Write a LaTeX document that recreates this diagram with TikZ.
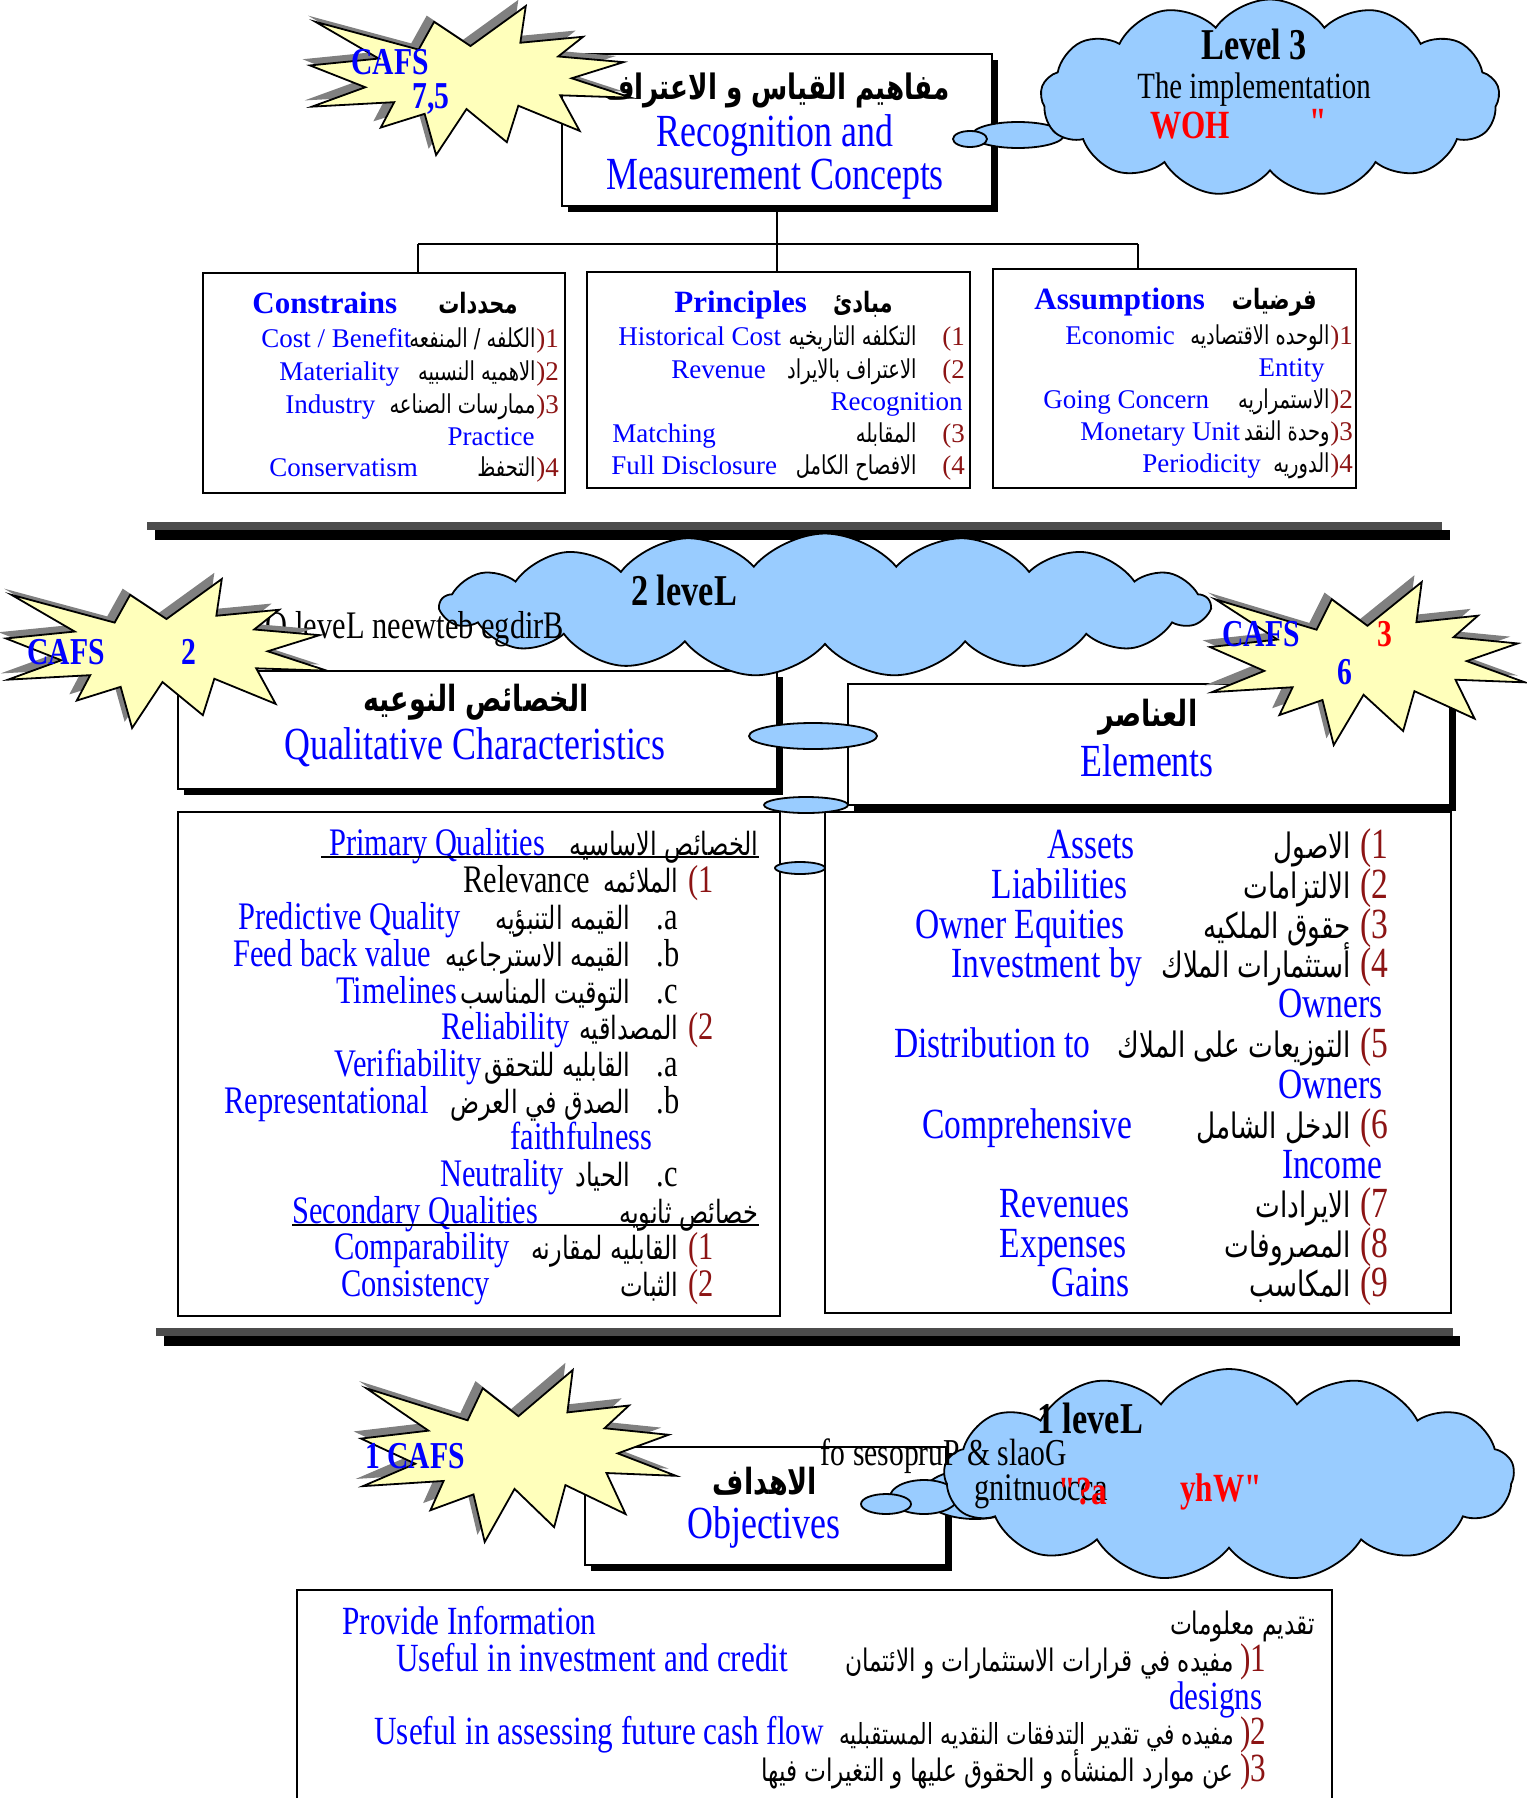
\documentclass[tikz,border=0pt]{standalone}
\usepackage{fontspec}
\setmainfont{Liberation Serif}
\newfontfamily\condfont[FakeStretch=0.78]{Liberation Serif}
\newfontfamily\rawcond[FakeStretch=0.78,Ligatures=TeXOff]{Liberation Serif}
\newfontfamily\arcond[Script=Arabic,FakeStretch=0.75]{DejaVu Sans}
\TeXXeTstate=1
\usetikzlibrary{shapes.symbols,shadows}
\definecolor{cloudblue}{RGB}{153,204,255}
\definecolor{boomyellow}{RGB}{255,255,187}
\definecolor{numred}{RGB}{140,20,20}
\newcommand\arctxt[1]{{\arcond\beginR #1\endR}}
\newcommand\fsz[1]{\fontsize{#1}{#1}\selectfont}
% explosion outline, 216 x 216 units
\def\boompath{(108,58) -- (145.22,0) -- (141.55,53.25) -- (183.8,44.57) -- (167.02,73.15)
  -- (210.97,81.37) -- (176.07,104.75) -- (216,132.9) -- (168.37,129.42) -- (181.45,180.95)
  -- (140.2,144.57) -- (132.47,197.37) -- (105.32,149.35) -- (84.85,216) -- (77.15,156.27)
  -- (47.62,176.17) -- (56.67,139.37) -- (1.35,145.87) -- (37.22,117.75) -- (0,86.15)
  -- (46.27,76.17) -- (3.7,22.95) -- (73.12,63.2) -- (83.52,22.95) -- cycle}
\tikzset{
  box/.style={draw, line width=1pt, fill=white, inner sep=0pt, outer sep=0pt},
  shbox/.style={box, drop shadow={fill=black, opacity=1, shadow xshift=3pt, shadow yshift=-3pt}},
  puff/.style={cloud, cloud puffs=13, cloud puff arc=110, cloud ignores aspect, draw,
    line width=0.9pt, fill=cloudblue, inner sep=0pt},
  tail/.style={draw, line width=0.9pt, fill=cloudblue},
  bar/.style={fill=black},
  greybar/.style={fill=black!70},
  tx/.style={inner sep=0pt},
  en/.style={tx, text=blue},
  cafs/.style={en, font=\condfont\bfseries\fsz{19}},
  topen/.style={en, yshift=-2.5pt, font=\fsz{13.5}},
  topar/.style={tx, yshift=-2.5pt, font=\fsz{13}},
  topnum/.style={tx, yshift=-2.5pt, text=numred, font=\fsz{13.5}},
  tophead/.style={en, yshift=-2.5pt, font=\bfseries\fsz{15.5}},
  toparhead/.style={tx, yshift=-2.5pt, font=\bfseries\fsz{14}},
  ttlen/.style={en, font=\condfont\fsz{23}},
  ttlar/.style={tx, font=\bfseries\fsz{18}},
  lvl/.style={tx, font=\condfont\bfseries\fsz{22}},
  qen/.style={en, yshift=-4pt, font=\condfont\fsz{19.5}},
  qar/.style={tx, yshift=-4pt, font=\fsz{16}},
  qnum/.style={tx, yshift=-4pt, text=numred, font=\condfont\fsz{19.5}},
  qlet/.style={tx, yshift=-4pt, font=\condfont\fsz{19.5}},
  een/.style={en, yshift=-4.5pt, font=\condfont\fsz{21.5}},
  ear/.style={tx, yshift=-4.5pt, font=\fsz{17.5}},
  enum/.style={tx, yshift=-4.5pt, text=numred, font=\condfont\fsz{21.5}},
  oen/.style={en, yshift=-4.5pt, font=\condfont\fsz{20}},
  oar/.style={tx, yshift=-4.5pt, font=\fsz{15.5}},
  onum/.style={tx, yshift=-4.5pt, text=numred, font=\condfont\fsz{20}},
  boom/.pic={
    \fill[black!50, shift={(-5,-9)}] \boompath;
    \draw[line width=0.9pt, fill=boomyellow] \boompath;
  }
}
\begin{document}
\begin{tikzpicture}[x=0.5pt, y=-0.5pt]
\useasboundingbox (0,0) rectangle (1526,1798);

% level 3 boxes
\node[box, minimum width=181pt, minimum height=110pt] (cons) at (384,383) {};
\node[box, minimum width=191.5pt, minimum height=108pt] (prin) at (778.5,380) {};
\node[box, minimum width=181.5pt, minimum height=109.5pt] (assm) at (1174.5,378.5) {};

\node[tophead, anchor=mid west] (c0en) at (252,304) {Constrains};
\node[toparhead, anchor=mid east] (c0ar) at (518,304) {\arctxt{محددات}};
\node[topen, anchor=mid west] (c1en) at (261,338) {Cost / Benefit};
\node[topar, anchor=mid east] (c1ar) at (536,338) {\arctxt{الكلفه / المنفعه}};
\node[topnum, anchor=mid west] (c1n) at (536,338) {)1};
\node[topen, anchor=mid west] (c2en) at (279,371) {Materiality};
\node[topar, anchor=mid east] (c2ar) at (536,371) {\arctxt{الاهميه النسبيه}};
\node[topnum, anchor=mid west] (c2n) at (536,371) {)2};
\node[topen, anchor=mid west] (c3en) at (285,404) {Industry};
\node[topar, anchor=mid east] (c3ar) at (536,404) {\arctxt{ممارسات الصناعه}};
\node[topnum, anchor=mid west] (c3n) at (536,404) {)3};
\node[topen, anchor=mid east] (c3en2) at (535,436) {Practice};
\node[topen, anchor=mid west] (c4en) at (269,467) {Conservatism};
\node[topar, anchor=mid east] (c4ar) at (536,467) {\arctxt{التحفظ}};
\node[topnum, anchor=mid west] (c4n) at (536,467) {)4};

\node[tophead, anchor=mid west] (p0en) at (674,303) {Principles};
\node[toparhead, anchor=mid east] (p0ar) at (893,303) {\arctxt{مبادئ}};
\node[topen, anchor=mid west] (p1en) at (618,336) {Historical Cost};
\node[topar, anchor=mid east] (p1ar) at (917,336) {\arctxt{التكلفه التاريخيه}};
\node[topnum, anchor=mid west] (p1n) at (942,336) {(1};
\node[topen, anchor=mid west] (p2en) at (671,369) {Revenue};
\node[topar, anchor=mid east] (p2ar) at (917,369) {\arctxt{الاعتراف بالايراد}};
\node[topnum, anchor=mid west] (p2n) at (942,369) {(2};
\node[topen, anchor=mid east] (p2en2) at (963,401) {Recognition};
\node[topen, anchor=mid west] (p3en) at (612,433) {Matching};
\node[topar, anchor=mid east] (p3ar) at (917,433) {\arctxt{المقابله}};
\node[topnum, anchor=mid west] (p3n) at (942,433) {(3};
\node[topen, anchor=mid west] (p4en) at (611,465) {Full Disclosure};
\node[topar, anchor=mid east] (p4ar) at (917,465) {\arctxt{الافصاح الكامل}};
\node[topnum, anchor=mid west] (p4n) at (942,465) {(4};

\node[tophead, anchor=mid west] (a0en) at (1034,300) {Assumptions};
\node[toparhead, anchor=mid east] (a0ar) at (1317,300) {\arctxt{فرضيات}};
\node[topen, anchor=mid west] (a1en) at (1065,335) {Economic};
\node[topar, anchor=mid east] (a1ar) at (1330,335) {\arctxt{الوحده الاقتصاديه}};
\node[topnum, anchor=mid west] (a1n) at (1330,335) {)1};
\node[topen, anchor=mid east] (a1en2) at (1325,367) {Entity};
\node[topen, anchor=mid west] (a2en) at (1043,399) {Going Concern};
\node[topar, anchor=mid east] (a2ar) at (1330,399) {\arctxt{الاستمراريه}};
\node[topnum, anchor=mid west] (a2n) at (1330,399) {)2};
\node[topen, anchor=mid west] (a3en) at (1080,431) {Monetary Unit};
\node[topar, anchor=mid east] (a3ar) at (1330,431) {\arctxt{وحدة النقد}};
\node[topnum, anchor=mid west] (a3n) at (1330,431) {)3};
\node[topen, anchor=mid west] (a4en) at (1142,463) {Periodicity};
\node[topar, anchor=mid east] (a4ar) at (1330,463) {\arctxt{الدوريه}};
\node[topnum, anchor=mid west] (a4n) at (1330,463) {)4};

% title of level 3 and the fork
\node[shbox, minimum width=215pt, minimum height=76pt] (rmc) at (777,130) {};
\coordinate (forkL) at (418,244);
\coordinate (forkR) at (1138,244);
\draw[line width=0.8pt] (rmc.south) -- (rmc.south |- forkL);
\draw[line width=0.8pt] (forkL) -- (forkR);
\draw[line width=0.8pt] (forkL) -- (forkL |- cons.north);
\draw[line width=0.8pt] (rmc.south |- forkL) -- (rmc.south |- prin.north);
\draw[line width=0.8pt] (forkR) -- (forkR |- assm.north);
\node[ttlar, font=\bfseries\fsz{17.5}] (rmcar) at (777,90) {\arctxt{مفاهيم القياس و الاعتراف}};
\node[ttlen] (rmcen1) at (775,136) {Recognition and};
\node[ttlen] (rmcen2) at (775,179) {Measurement Concepts};

\draw[tail] (1018,135) ellipse [x radius=46, y radius=13];
\draw[tail] (970,139) ellipse [x radius=17, y radius=8];
\node[puff, minimum width=229.5pt, minimum height=98.5pt] (lvl3) at (1270,98) {};
\node[lvl] (lvl3a) at (1254,44) {Level 3};
\node[tx, font=\condfont\fsz{18.5}] (lvl3b) at (1254,90) {The implementation};
\node[tx, text=red, font=\condfont\bfseries\fsz{20}] (how) at (1190,126) {WOH};
\node[tx, text=red, font=\rawcond\bfseries\fsz{20}] (howq) at (1318,122) {"};

\pic[xscale=1.486, yscale=0.69] (boomA) at (310,6) {boom};
\node[cafs] (cafsA1) at (390,62) {CAFS};
\node[cafs] (cafsA2) at (431,99) {7,5};

\fill[greybar] (147,522) rectangle (1442,530);
\fill[bar] (155,530) rectangle (1450,540);

% level 2
\node[box, minimum width=301pt, minimum height=252pt] (quall) at (479,1064) {};
\node[box, minimum width=313pt, minimum height=250.5pt] (eleml) at (1138,1062.5) {};
\node[shbox, minimum width=299.5pt, minimum height=59pt] (qual) at (477.5,730) {};
\node[shbox, minimum width=301pt, minimum height=60.5pt] (elem) at (1149,744.5) {};
\node[ttlar] (qualar) at (476,702) {\arctxt{الخصائص النوعيه}};
\node[ttlen] (qualen) at (475,747) {Qualitative Characteristics};
\node[ttlar] (elemar) at (1148,717) {\arctxt{العناصر}};
\node[ttlen] (elemen) at (1147,761) {Elements};

\node[qen, anchor=mid west] (q0en) at (329,843) {Primary Qualities};
\node[qar, anchor=mid east] (q0ar) at (759,843) {\arctxt{الخصائص الاساسيه}};
\draw[line width=0.7pt] (321,857) -- (759,857);
\node[qlet, anchor=mid west] (q1en) at (463,880) {Relevance};
\node[qar, anchor=mid east] (q1ar) at (679,880) {\arctxt{الملائمه}};
\node[qnum, anchor=mid west] (q1n) at (688,880) {(1};
\node[qen, anchor=mid west] (q2en) at (238,917) {Predictive Quality};
\node[qar, anchor=mid east] (q2ar) at (631,917) {\arctxt{القيمه التنبؤيه}};
\node[qlet, anchor=mid west] (q2n) at (656,917) {.a};
\node[qen, anchor=mid west] (q3en) at (233,954) {Feed back value};
\node[qar, anchor=mid east] (q3ar) at (631,954) {\arctxt{القيمه الاسترجاعيه}};
\node[qlet, anchor=mid west] (q3n) at (656,954) {.b};
\node[qen, anchor=mid west] (q4en) at (336,991) {Timelines};
\node[qar, anchor=mid east] (q4ar) at (631,991) {\arctxt{التوقيت المناسب}};
\node[qlet, anchor=mid west] (q4n) at (656,991) {.c};
\node[qen, anchor=mid west] (q5en) at (441,1027) {Reliability};
\node[qar, anchor=mid east] (q5ar) at (679,1027) {\arctxt{المصداقيه}};
\node[qnum, anchor=mid west] (q5n) at (688,1027) {(2};
\node[qen, anchor=mid west] (q6en) at (334,1064) {Verifiability};
\node[qar, anchor=mid east] (q6ar) at (631,1064) {\arctxt{القابليه للتحقق}};
\node[qlet, anchor=mid west] (q6n) at (656,1064) {.a};
\node[qen, anchor=mid west] (q7en) at (224,1101) {Representational};
\node[qar, anchor=mid east] (q7ar) at (631,1101) {\arctxt{الصدق في العرض}};
\node[qlet, anchor=mid west] (q7n) at (656,1101) {.b};
\node[qen, anchor=mid west] (q8en) at (510,1137) {faithfulness};
\node[qen, anchor=mid west] (q9en) at (440,1174) {Neutrality};
\node[qar, anchor=mid east] (q9ar) at (631,1174) {\arctxt{الحياد}};
\node[qlet, anchor=mid west] (q9n) at (656,1174) {.c};
\node[qen, anchor=mid west] (q10en) at (292,1211) {Secondary Qualities};
\node[qar, anchor=mid east] (q10ar) at (759,1211) {\arctxt{خصائص ثانويه}};
\draw[line width=0.7pt] (292,1225) -- (759,1225);
\node[qen, anchor=mid west] (q11en) at (334,1247) {Comparability};
\node[qar, anchor=mid east] (q11ar) at (679,1247) {\arctxt{القابليه لمقارنه}};
\node[qnum, anchor=mid west] (q11n) at (688,1247) {(1};
\node[qen, anchor=mid west] (q12en) at (341,1284) {Consistency};
\node[qar, anchor=mid east] (q12ar) at (679,1284) {\arctxt{الثبات}};
\node[qnum, anchor=mid west] (q12n) at (688,1284) {(2};

\node[een, anchor=mid east] (e1en) at (1135,845) {Assets};
\node[ear, anchor=mid east] (e1ar) at (1351,845) {\arctxt{الاصول}};
\node[enum, anchor=mid west] (e1n) at (1360,845) {(1};
\node[een, anchor=mid east] (e2en) at (1128,885) {Liabilities};
\node[ear, anchor=mid east] (e2ar) at (1351,885) {\arctxt{الالتزامات}};
\node[enum, anchor=mid west] (e2n) at (1360,885) {(2};
\node[een, anchor=mid east] (e3en) at (1125,925) {Owner Equities};
\node[ear, anchor=mid east] (e3ar) at (1351,925) {\arctxt{حقوق الملكيه}};
\node[enum, anchor=mid west] (e3n) at (1360,925) {(3};
\node[een, anchor=mid east] (e4en) at (1143,964) {Investment by};
\node[ear, anchor=mid east] (e4ar) at (1351,964) {\arctxt{أستثمارات الملاك}};
\node[enum, anchor=mid west] (e4n) at (1360,964) {(4};
\node[een, anchor=mid east] (e4en2) at (1383,1004) {Owners};
\node[een, anchor=mid east] (e5en) at (1091,1044) {Distribution to};
\node[ear, anchor=mid east] (e5ar) at (1351,1044) {\arctxt{التوزيعات على الملاك}};
\node[enum, anchor=mid west] (e5n) at (1360,1044) {(5};
\node[een, anchor=mid east] (e5en2) at (1383,1085) {Owners};
\node[een, anchor=mid east] (e6en) at (1133,1125) {Comprehensive};
\node[ear, anchor=mid east] (e6ar) at (1351,1125) {\arctxt{الدخل الشامل}};
\node[enum, anchor=mid west] (e6n) at (1360,1125) {(6};
\node[een, anchor=mid east] (e6en2) at (1383,1165) {Income};
\node[een, anchor=mid east] (e7en) at (1130,1204) {Revenues};
\node[ear, anchor=mid east] (e7ar) at (1351,1204) {\arctxt{الايرادات}};
\node[enum, anchor=mid west] (e7n) at (1360,1204) {(7};
\node[een, anchor=mid east] (e8en) at (1127,1244) {Expenses};
\node[ear, anchor=mid east] (e8ar) at (1351,1244) {\arctxt{المصروفات}};
\node[enum, anchor=mid west] (e8n) at (1360,1244) {(8};
\node[een, anchor=mid east] (e9en) at (1130,1283) {Gains};
\node[ear, anchor=mid east] (e9ar) at (1351,1283) {\arctxt{المكاسب}};
\node[enum, anchor=mid west] (e9n) at (1360,1283) {(9};

% cloud of level 2 and its tail
\draw[tail] (813,736) ellipse [x radius=64, y radius=13];
\draw[tail] (806,805) ellipse [x radius=42, y radius=8];
\draw[tail] (800,868) ellipse [x radius=25, y radius=6];
\node[puff, cloud puffs=17, cloud puff arc=100, minimum width=384.5pt, minimum height=71.5pt] (lvl2) at (825,605) {};
\node[lvl] (lvl2a) at (684,590) {2 leveL};
\node[tx, font=\condfont\fsz{19.5}] (lvl2b) at (415,629) {O leveL neewteb egdirB};

\pic[xscale=1.486, yscale=0.69] (boomB) at (6,579) {boom};
\node[cafs] (cafsB1) at (66,652) {CAFS};
\node[cafs] (cafsB2) at (189,652) {2};
\pic[xscale=1.458, yscale=0.755] (boomC) at (1210,582) {boom};
\node[cafs] (cafsC1) at (1261,634) {CAFS};
\node[cafs, text=red] (cafsC2) at (1385,634) {3};
\node[cafs] (cafsC3) at (1345,672) {6};

\fill[greybar] (156,1328) rectangle (1453,1336);
\fill[bar] (164,1336) rectangle (1460,1346);

% level 1
\node[box, minimum width=517.5pt, minimum height=115pt] (objl) at (814.5,1705) {};
\node[oen, anchor=mid west] (o0en) at (342,1621) {Provide Information};
\node[oar, anchor=mid east] (o0ar) at (1315,1621) {\arctxt{تقديم معلومات}};
\node[oen, anchor=mid west] (o1en) at (396,1658) {Useful in investment and credit};
\node[oar, anchor=mid east] (o1ar) at (1234,1658) {\arctxt{مفيده في قرارات الاستثمارات و الائتمان}};
\node[onum, anchor=mid west] (o1n) at (1240,1658) {)1};
\node[oen, anchor=mid east] (o1en2) at (1263,1696) {designs};
\node[oen, anchor=mid west] (o2en) at (374,1731) {Useful in assessing future cash flow};
\node[oar, anchor=mid east, font=\fsz{14.5}] (o2ar) at (1234,1731) {\arctxt{مفيده في تقدير التدفقات النقديه المستقبليه}};
\node[onum, anchor=mid west] (o2n) at (1240,1731) {)2};
\node[oar, anchor=mid east] (o3ar) at (1234,1768) {\arctxt{عن موارد المنشأه و الحقوق عليها و التغيرات فيها}};
\node[onum, anchor=mid west] (o3n) at (1240,1768) {)3};

\node[shbox, minimum width=180.5pt, minimum height=59pt] (obj) at (765.5,1506) {};
\node[ttlar] (objar) at (765,1481) {\arctxt{الاهداف}};
\node[ttlen] (objen) at (764,1527) {Objectives};

\draw[tail] (975,1494) ellipse [x radius=52, y radius=25];
\draw[tail] (924,1497) ellipse [x radius=34, y radius=17];
\draw[tail] (886,1504) ellipse [x radius=25, y radius=10];
\node[puff, minimum width=285pt, minimum height=106pt] (lvl1) at (1229,1475) {};
\node[lvl] (lvl1a) at (1090,1418) {1 leveL};
\node[tx, font=\condfont\fsz{19}] (lvl1b) at (944,1456) {fo sesopruP \& slaoG};
\node[tx, font=\condfont\fsz{19.5}] (lvl1c) at (1041,1492) {gnitnuocca};
\node[tx, text=red, font=\rawcond\bfseries\fsz{20}] (why1) at (1083,1492) {"?a};
\node[tx, text=red, font=\rawcond\bfseries\fsz{20}] (why2) at (1221,1492) {yhW"};

\pic[xscale=1.458, yscale=0.796] (boomD) at (361,1370) {boom};
\node[cafs] (cafsD1) at (415,1456) {1 CAFS};
\end{tikzpicture}
\end{document}
